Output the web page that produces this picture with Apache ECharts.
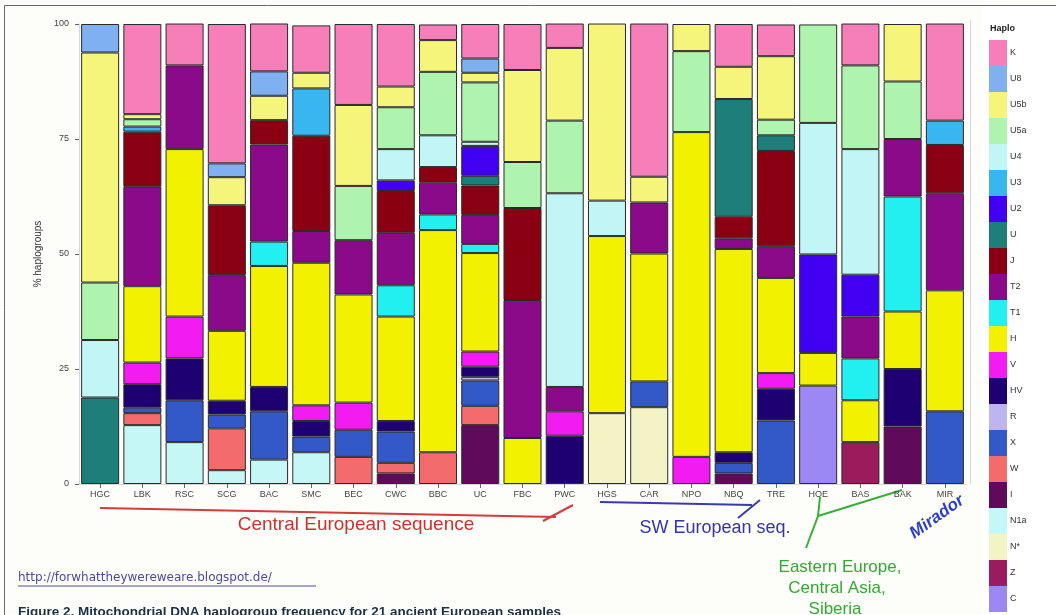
<!DOCTYPE html>
<html>
<head>
<meta charset="utf-8">
<script src="https://cdn.jsdelivr.net/npm/echarts@6/dist/echarts.min.js"></script>
<style>
html,body{margin:0;padding:0;background:#fdfdf9;}
#chart{width:1056px;height:615px;}
</style>
</head>
<body>
<div id="chart"></div>
<script>
// Categories (ancient European samples)
const categories = ['HGC','LBK','RSC','SCG','BAC','SMC','BEC','CWC','BBC','UC','FBC','PWC','HGS','CAR','NPO','NBQ','TRE','HOE','BAS','BAK','MIR'];
// Y-axis ticks
const yTicks = [0, 25, 50, 75, 100];
// Haplogroup legend order (top to bottom)
const haplos = ['K','U8','U5b','U5a','U4','U3','U2','U','J','T2','T1','H','V','HV','R','X','W','I','N1a','N*','Z','C'];
const haploColors = {
  'K':'#f77fb9','U8':'#7fb0f2','U5b':'#f5f57c','U5a':'#aef3ae','U4':'#c2f5f5','U3':'#38b6ef',
  'U2':'#4200f2','U':'#1e7f7a','J':'#8a0012','T2':'#8a0a8a','T1':'#22efef','H':'#f2f200',
  'V':'#f21cf2','HV':'#1f0072','R':'#bdb4f2','X':'#3358c8','W':'#f46b6b','I':'#600a5c',
  'N1a':'#c6f7f7','N*':'#f4f3c6','Z':'#9b1c5c','C':'#9b88f5'
};
// Frequencies (%), one array per haplogroup, in category order
const K   = [0,19.6,9.1,30.3,10.5,10.3,17.6,13.6,3.4,7.5,10,5.3,0,33.3,0,9.3,6.9,0,9.1,0,21.1];
const U8  = [6.2,0,0,3.0,5.3,0,0,0,0,3.1,0,0,0,0,0,0,0,0,0,0,0];
const U5b = [50,1.1,0,6.1,5.3,3.4,17.6,4.5,6.9,2.1,20,15.8,38.5,5.6,5.9,7.0,13.8,0,0,12.5,0];
const U5a = [12.5,1.6,0,0,0,0,11.8,9.1,13.8,12.9,10,15.8,0,0,17.6,0,3.4,21.4,18.2,12.5,0];
const U4  = [12.5,0,0,0,0,0,0,6.8,6.9,0.9,0,42.1,7.7,0,0,0,0,28.6,27.3,0,0];
const U3  = [0,1.1,0,0,0,10.3,0,0,0,0,0,0,0,0,0,0,0,0,0,0,5.3];
const U2  = [0,0,0,0,0,0,0,2.3,0,6.5,0,0,0,0,0,0,0,21.4,9.1,0,0];
const U   = [18.8,0,0,0,0,0,0,0,0,2.1,0,0,0,0,0,25.6,3.4,0,0,0,0];
const J   = [0,12,0,15.2,5.3,20.7,0,9.1,3.4,6.4,20,0,0,0,0,4.7,20.7,0,0,0,10.5];
const T2  = [0,21.6,18.2,12.1,21.1,6.9,11.8,11.4,6.9,6.3,30,5.3,0,11.1,0,2.3,6.9,0,9.1,12.5,21.1];
const T1  = [0,0,0,0,5.3,0,0,6.8,3.4,2.0,0,0,0,0,0,0,0,0,9.1,25,0];
const H   = [0,16.6,36.4,15.2,26.3,31.0,23.5,22.7,48.3,21.4,10,0,38.5,27.8,70.6,44.2,20.7,7.1,9.1,12.5,26.3];
const V   = [0,4.7,9.1,0,0,3.4,5.9,0,0,3.3,0,5.3,0,0,5.9,0,3.4,0,0,0,0];
const HV  = [0,5.1,9.1,3.0,5.3,3.4,0,2.3,0,2.2,0,10.5,0,0,0,2.3,6.9,0,0,12.5,0];
const R   = [0,0,0,0,0,0,0,0,0,0.8,0,0,0,0,0,0,0,0,0,0,0];
const X   = [0,1.2,9.1,3.0,10.5,3.4,5.9,6.8,0,5.5,0,0,0,5.6,0,2.3,13.8,0,0,0,15.8];
const W   = [0,2.6,0,9.1,0,0,5.9,2.3,6.9,4.2,0,0,0,0,0,0,0,0,0,0,0];
const I   = [0,0,0,0,0,0,0,2.3,0,12.8,0,0,0,0,0,2.3,0,0,0,12.5,0];
const N1a = [0,12.8,9.1,3.0,5.3,6.9,0,0,0,0,0,0,0,0,0,0,0,0,0,0,0];
const Nstar = [0,0,0,0,0,0,0,0,0,0,0,0,15.4,16.7,0,0,0,0,0,0,0];
const Z   = [0,0,0,0,0,0,0,0,0,0,0,0,0,0,0,0,0,0,9.1,0,0];
const C   = [0,0,0,0,0,0,0,0,0,0,0,0,0,0,0,0,0,21.4,0,0,0];

const haploData = {K,U8,U5b,U5a,U4,U3,U2,U,J,T2,T1,H,V,HV,R,X,W,I,N1a,'N*':Nstar,Z,C};

const series = haplos.slice().reverse().map(h => ({
  name: h,
  type: 'bar',
  stack: 'total',
  barCategoryGap: '10%',
  data: haploData[h].map(v => v > 0 ? v : '-'),
  itemStyle: { color: haploColors[h], borderColor: '#2a2a2a', borderWidth: 1 },
  emphasis: { disabled: true },
  animation: false
}));

const chart = echarts.init(document.getElementById('chart'), null, {renderer: 'canvas'});
const narrow = "'Liberation Sans Narrow','Liberation Sans',Arial,sans-serif";
chart.setOption({
  backgroundColor: '#fdfdf9',
  animation: false,
  grid: { left: 79, right: 90, top: 24, bottom: 131, containLabel: false },
  xAxis: {
    type: 'category',
    data: categories,
    axisLine: { show: true, lineStyle: { color: '#d8d8d8' } },
    axisTick: { show: true, alignWithLabel: true, length: 4, lineStyle: { color: '#666' } },
    axisLabel: { fontSize: 9, color: '#444', margin: 6, fontFamily: 'Liberation Sans' }
  },
  yAxis: {
    type: 'value',
    min: 0, max: 100, interval: 25,
    name: '% haplogroups',
    nameLocation: 'middle',
    nameRotate: 90,
    nameGap: 34,
    nameTextStyle: { fontSize: 10, color: '#333', fontFamily: 'Liberation Sans' },
    axisLine: { show: true, lineStyle: { color: '#d8d8d8' } },
    axisTick: { show: true, length: 4, lineStyle: { color: '#666' } },
    axisLabel: { fontSize: 9, color: '#444', margin: 10, fontFamily: 'Liberation Sans',
      formatter: v => yTicks.includes(v) ? String(v) : '' },
    splitLine: { show: false }
  },
  legend: {
    orient: 'vertical',
    left: 989, top: 40,
    itemWidth: 18, itemHeight: 26, itemGap: 0,
    padding: 0,
    icon: 'rect',
    data: haplos,
    selectedMode: false,
    itemStyle: { borderWidth: 0 },
    textStyle: { fontSize: 9, color: '#333', fontFamily: 'Liberation Sans', padding: [0,0,0,-2] }
  },
  graphic: [
    { type: 'rect', shape: { x: 4.5, y: 5.5, width: 1200, height: 700 }, style: { fill: 'none', stroke: '#6a6a6a', lineWidth: 1 }, z: -1, silent: true },
    { type: 'rect', shape: { x: 982, y: 6, width: 74, height: 609 }, style: { fill: '#ffffff' }, z: -2, silent: true },
    { type: 'line', shape: { x1: 970.5, y1: 20, x2: 970.5, y2: 484 }, style: { stroke: '#d8d8d8', lineWidth: 1 }, silent: true },
    { type: 'text', left: 990, top: 24, style: { text: 'Haplo', fontSize: 9, fontWeight: 'bold', fill: '#222', fontFamily: 'Liberation Sans' } },
    // red arrow
    { type: 'polyline', shape: { points: [[100,508],[556,517]] }, style: { stroke: '#d43c3c', lineWidth: 2, fill: 'none' } },
    { type: 'line', shape: { x1: 543, y1: 521, x2: 573, y2: 505 }, style: { stroke: '#d43c3c', lineWidth: 2 } },
    { type: 'text', x: 356, y: 525, style: { text: 'Central European sequence', fontSize: 19, fill: '#c83434', fontFamily: narrow, textAlign: 'center', textVerticalAlign: 'middle' } },
    // blue arrow
    { type: 'polyline', shape: { points: [[600,502],[752,505]] }, style: { stroke: '#3a3ab0', lineWidth: 2, fill: 'none' } },
    { type: 'line', shape: { x1: 738, y1: 518, x2: 760, y2: 500 }, style: { stroke: '#3a3ab0', lineWidth: 2 } },
    { type: 'text', x: 715, y: 528, style: { text: 'SW European seq.', fontSize: 18, fill: '#3434a8', fontFamily: narrow, textAlign: 'center', textVerticalAlign: 'middle' } },
    // green Y
    { type: 'polyline', shape: { points: [[820,497],[818,516],[806,548]] }, style: { stroke: '#38b038', lineWidth: 2, fill: 'none' } },
    { type: 'line', shape: { x1: 818, y1: 516, x2: 902, y2: 490 }, style: { stroke: '#38b038', lineWidth: 2 } },
    { type: 'text', x: 840, y: 567, style: { text: 'Eastern Europe,', fontSize: 17, fill: '#34a834', fontFamily: narrow, textAlign: 'center', textVerticalAlign: 'middle' } },
    { type: 'text', x: 837, y: 588, style: { text: 'Central Asia,', fontSize: 17, fill: '#34a834', fontFamily: narrow, textAlign: 'center', textVerticalAlign: 'middle' } },
    { type: 'text', x: 835, y: 609, style: { text: 'Siberia', fontSize: 17, fill: '#34a834', fontFamily: narrow, textAlign: 'center', textVerticalAlign: 'middle' } },
    // Mirador
    { type: 'text', x: 937, y: 517, rotation: 0.62, style: { text: 'Mirador', fontSize: 17, fontWeight: 'bold', fontStyle: 'italic', fill: '#2a3ec8', fontFamily: narrow, textAlign: 'center', textVerticalAlign: 'middle' } },
    // URL
    { type: 'text', x: 18, y: 578, style: { text: 'http://forwhattheywereweare.blogspot.de/', fontSize: 12, fill: '#4a4aa6', fontFamily: 'DejaVu Sans', textVerticalAlign: 'middle' } },
    { type: 'line', shape: { x1: 18, y1: 586, x2: 316, y2: 586 }, style: { stroke: '#4a4aa6', lineWidth: 1 } },
    // caption (cut off)
    { type: 'text', x: 18, y: 612, style: { text: 'Figure 2. Mitochondrial DNA haplogroup frequency for 21 ancient European samples', fontSize: 13.5, fontWeight: 'bold', fill: '#1c3046', fontFamily: 'Liberation Sans', textVerticalAlign: 'middle' } }
  ],
  series: series
});
</script>
</body>
</html>
